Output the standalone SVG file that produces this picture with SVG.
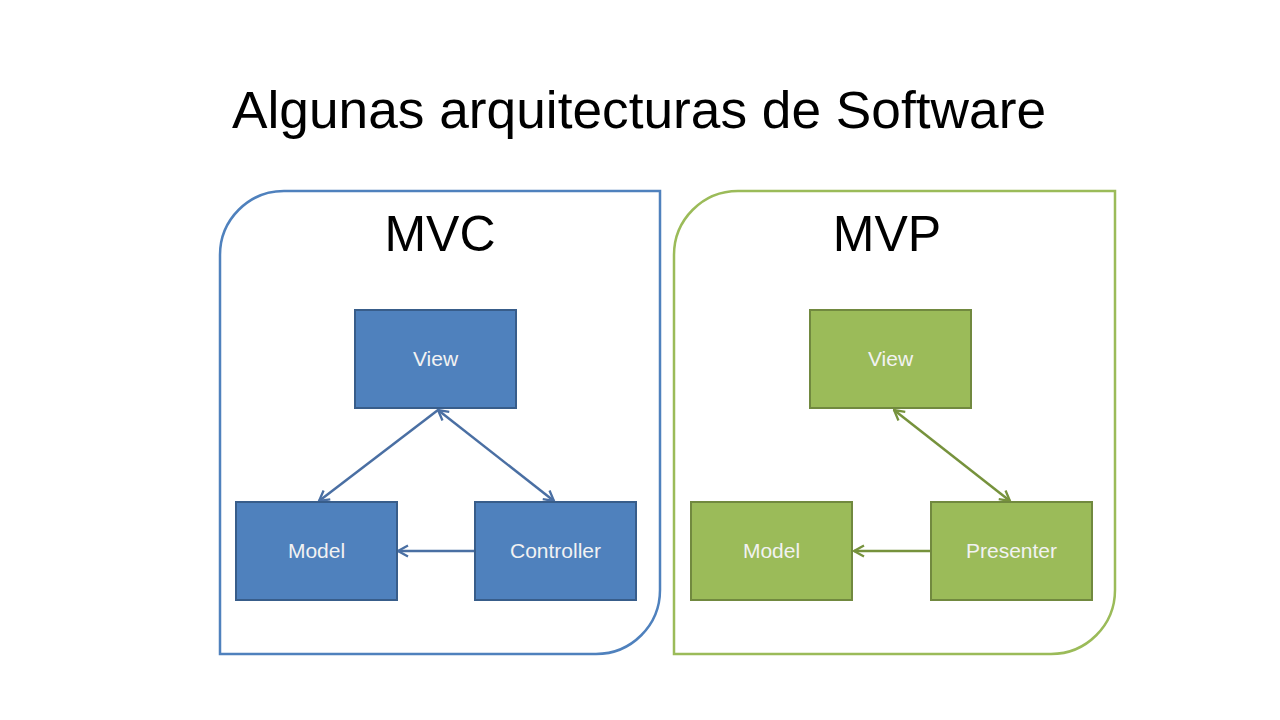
<svg xmlns="http://www.w3.org/2000/svg" width="1280" height="720" viewBox="0 0 1280 720">
<defs>
<style>
.title{font-family:"Liberation Sans",Arial,sans-serif;font-size:51px;fill:#000}
.head{font-family:"Liberation Sans",Arial,sans-serif;font-size:50px;fill:#000;text-anchor:middle}
.lbl{font-family:"Liberation Sans",Arial,sans-serif;font-size:21px;fill:#F2F2F2;text-anchor:middle}
.bnode{fill:#4F81BD;stroke:#385D8A;stroke-width:2}
.gnode{fill:#9BBB59;stroke:#71893F;stroke-width:2}
.bline{stroke:#4A6FA3;stroke-width:2.5;fill:none}
.gline{stroke:#76923C;stroke-width:2.5;fill:none}
</style>
<marker id="ab" viewBox="0 0 14 14" refX="13" refY="7" markerWidth="14" markerHeight="14" markerUnits="userSpaceOnUse" orient="auto-start-reverse">
<path d="M3,1.5 L13,7 L3,12.5" fill="none" stroke="#4A6FA3" stroke-width="2.3"/>
</marker>
<marker id="ag" viewBox="0 0 14 14" refX="13" refY="7" markerWidth="14" markerHeight="14" markerUnits="userSpaceOnUse" orient="auto-start-reverse">
<path d="M3,1.5 L13,7 L3,12.5" fill="none" stroke="#76923C" stroke-width="2.3"/>
</marker>
</defs>
<rect width="1280" height="720" fill="#fff"/>
<text class="title" x="232" y="128" textLength="814" lengthAdjust="spacingAndGlyphs">Algunas arquitecturas de Software</text>

<g id="mvc-frame">
<path d="M284,191 H660 V590 A64,64 0 0 1 596,654 H220 V255 A64,64 0 0 1 284,191 Z" fill="none" stroke="#4F81BD" stroke-width="2.5"/>
<text class="head" x="440" y="251">MVC</text>
</g>
<g id="mvp-frame">
<path d="M738,191 H1115 V590 A64,64 0 0 1 1051,654 H674 V255 A64,64 0 0 1 738,191 Z" fill="none" stroke="#9BBB59" stroke-width="2.5"/>
<text class="head" x="887" y="251">MVP</text>
</g>

<g id="connectors">
<line class="bline" x1="438" y1="410" x2="319" y2="501" marker-end="url(#ab)"/>
<line class="bline" x1="438" y1="410" x2="554" y2="501" marker-start="url(#ab)" marker-end="url(#ab)"/>
<line class="bline" x1="475" y1="551" x2="398" y2="551" marker-end="url(#ab)"/>
<line class="gline" x1="894" y1="410" x2="1010" y2="501" marker-start="url(#ag)" marker-end="url(#ag)"/>
<line class="gline" x1="931" y1="551" x2="854" y2="551" marker-end="url(#ag)"/>
</g>

<g id="mvc-view"><rect class="bnode" x="355" y="310" width="161" height="98"/><text class="lbl" x="435.5" y="366">View</text></g>
<g id="mvc-model"><rect class="bnode" x="236" y="502" width="161" height="98"/><text class="lbl" x="316.5" y="558">Model</text></g>
<g id="mvc-controller"><rect class="bnode" x="475" y="502" width="161" height="98"/><text class="lbl" x="555.5" y="558">Controller</text></g>

<g id="mvp-view"><rect class="gnode" x="810" y="310" width="161" height="98"/><text class="lbl" x="890.5" y="366">View</text></g>
<g id="mvp-model"><rect class="gnode" x="691" y="502" width="161" height="98"/><text class="lbl" x="771.5" y="558">Model</text></g>
<g id="mvp-presenter"><rect class="gnode" x="931" y="502" width="161" height="98"/><text class="lbl" x="1011.5" y="558">Presenter</text></g>
</svg>
